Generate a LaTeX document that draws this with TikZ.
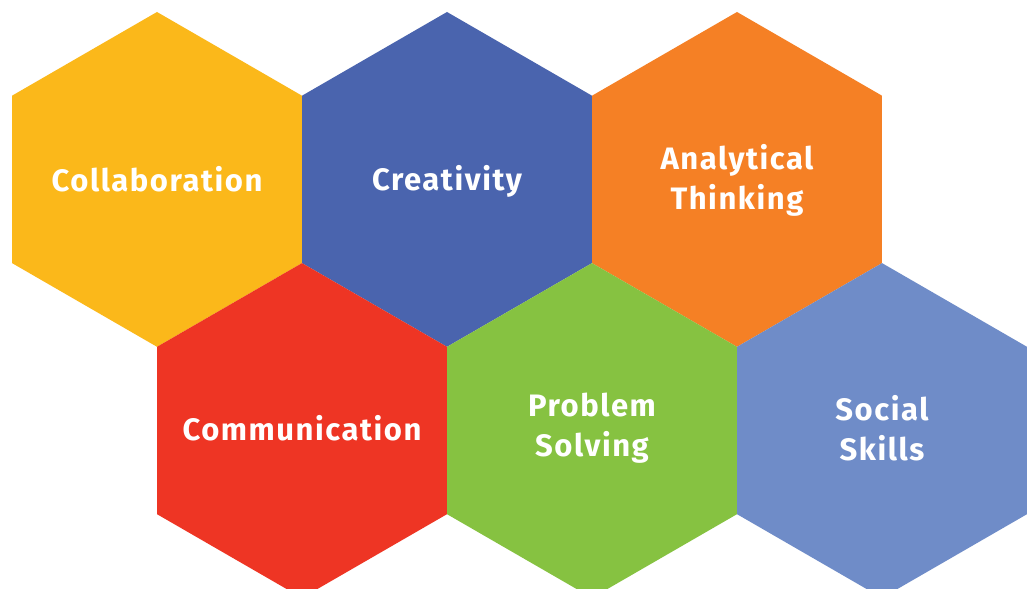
\documentclass[tikz,border=0pt]{standalone}
\usepackage{fontspec}
\newfontfamily\hexfont[LetterSpace=5]{Fira Sans}
\definecolor{cyel}{RGB}{251,184,26}
\definecolor{cblue}{RGB}{74,100,174}
\definecolor{corange}{RGB}{245,128,37}
\definecolor{cred}{RGB}{238,53,36}
\definecolor{cgreen}{RGB}{134,194,65}
\definecolor{clblue}{RGB}{111,140,200}
\tikzset{
  lbl/.style={text=white, font=\hexfont\bfseries\fontsize{31}{40}\selectfont, align=center, inner sep=0pt},
}
\newcommand{\hexat}[3]{% x, y (pixel coords, y down), colour
  \fill[#3] (#1,589-#2) ++(90:167.4) -- ++(210:167.4) -- ++(270:167.4) -- ++(330:167.4) -- ++(30:167.4) -- ++(90:167.4) -- cycle;
}
\begin{document}
\begin{tikzpicture}[x=1pt,y=1pt]
\useasboundingbox (0,0) rectangle (1031,589);
\clip (0,0) rectangle (1031,589);
\fill[white] (0,0) rectangle (1031,589);
\hexat{157}{179.4}{cyel}
\hexat{447}{179.4}{cblue}
\hexat{737}{179.4}{corange}
\hexat{302}{430.5}{cred}
\hexat{592}{430.5}{cgreen}
\hexat{882}{430.5}{clblue}
\node[lbl] (collab) at (157,589-179) {Collaboration};
\node[lbl] (creat) at (447,589-181) {Creativity};
\node[lbl] (anal) at (737,589-180) {Analytical\\Thinking};
\node[lbl] (comm) at (302,589-428) {Communication};
\node[lbl] (prob) at (592,589-428) {Problem\\Solving};
\node[lbl] (soc) at (882,589-428) {Social\\Skills};
\end{tikzpicture}
\end{document}
